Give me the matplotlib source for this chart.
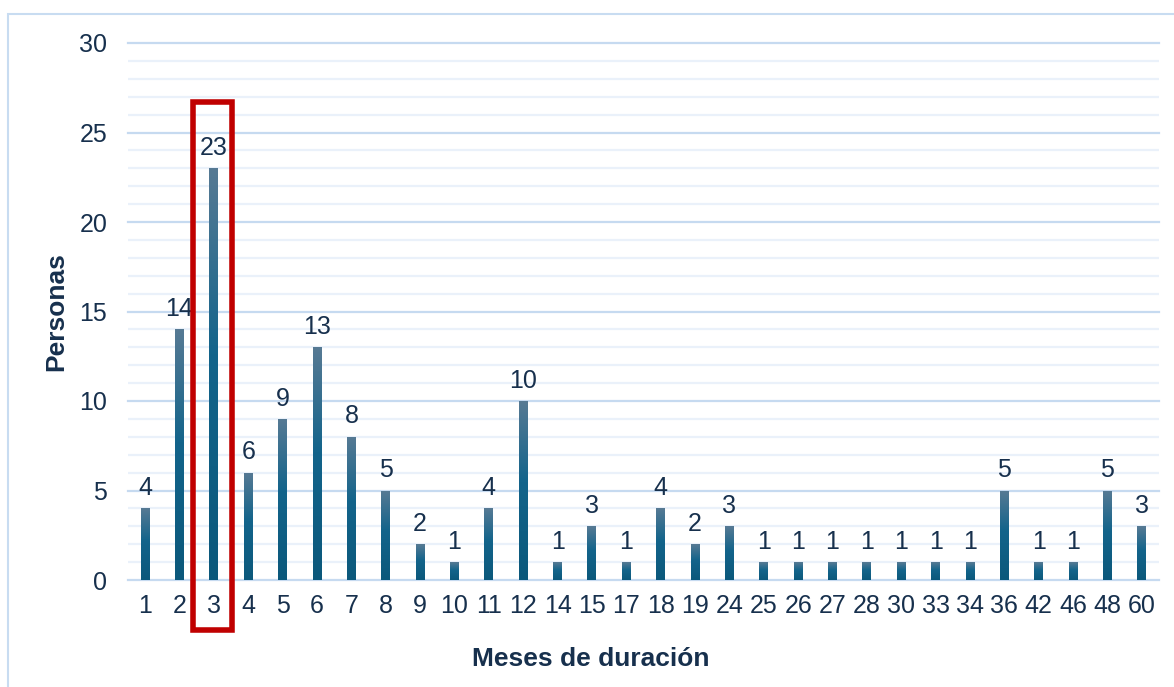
import matplotlib
matplotlib.use("Agg")
import matplotlib.pyplot as plt
import numpy as np
from matplotlib.colors import LinearSegmentedColormap
from matplotlib.patches import Rectangle
from matplotlib.ticker import MultipleLocator

# months of duration and number of people
meses = ["1", "2", "3", "4", "5", "6", "7", "8", "9", "10", "11", "12", "14", "15", "17",
         "18", "19", "24", "25", "26", "27", "28", "30", "33", "34", "36", "42", "46", "48", "60"]
personas = [4, 14, 23, 6, 9, 13, 8, 5, 2, 1, 4, 10, 1, 3, 1,
            4, 2, 3, 1, 1, 1, 1, 1, 1, 1, 5, 1, 1, 5, 3]

txt = "#17304d"
plt.rcParams["font.family"] = ["Liberation Sans", "DejaVu Sans"]

fig = plt.figure(figsize=(11.74, 6.87), dpi=100)
ax = fig.add_axes([128 / 1174, 1 - 580 / 687, 1031 / 1174, 537 / 687])

x = np.arange(len(meses))
bars = ax.bar(x, personas, width=0.26, color="none", zorder=3)

# gradient fill for each bar (lighter at the top)
cmap = LinearSegmentedColormap.from_list(
    "barras", [(0, "#0b587b"), (0.55, "#13648b"), (1, "#577a94")])
grad = np.linspace(0, 1, 256).reshape(-1, 1)
for b in bars:
    x0, w, h = b.get_x(), b.get_width(), b.get_height()
    im = ax.imshow(grad, cmap=cmap, origin="lower", aspect="auto",
                   extent=[x0, x0 + w, 0, h], zorder=3)
    im.set_clip_path(b)

for xi, v in zip(x, personas):
    ax.annotate(str(v), (xi, v), xytext=(0, 6), textcoords="offset points",
                ha="center", va="bottom", fontsize=18, color=txt, zorder=4)

ax.set_xlim(-0.5, len(meses) - 0.5)
ax.set_ylim(0, 30)
ax.set_xticks(x)
ax.set_xticklabels(meses)
ax.yaxis.set_major_locator(MultipleLocator(5))
ax.yaxis.set_minor_locator(MultipleLocator(1))
ax.grid(axis="y", which="major", color="#c6daf0", lw=1.6, zorder=0)
ax.grid(axis="y", which="minor", color="#eaf1fa", lw=1.6, zorder=0)
for gl in ax.yaxis.get_gridlines():
    gl.set_clip_on(False)
ax.tick_params(axis="both", which="both", length=0, labelsize=18, labelcolor=txt)
ax.tick_params(axis="y", pad=15)
ax.tick_params(axis="x", pad=10)
for s in ax.spines.values():
    s.set_visible(False)

ax.set_ylabel("Personas", fontsize=19, fontweight="bold", color=txt, labelpad=8)
ax.set_xlabel("Meses de duración", fontsize=19, fontweight="bold", color=txt, labelpad=13)
ax.xaxis.set_label_coords(0.449, -0.125)

# highlight box around month 3
ax.add_patch(Rectangle((1.40, -2.77), 1.126, 29.47, fill=False, edgecolor="#c00000",
                       lw=4, clip_on=False, zorder=5))

# light outer frame
fig.add_artist(Rectangle((8 / 1174, -0.2), 1.2, 1.2 - 14 / 687,
                         transform=fig.transFigure, fill=False,
                         edgecolor="#c8dcf1", lw=1.5))

fig.savefig("out.png", dpi=100, facecolor="white")
